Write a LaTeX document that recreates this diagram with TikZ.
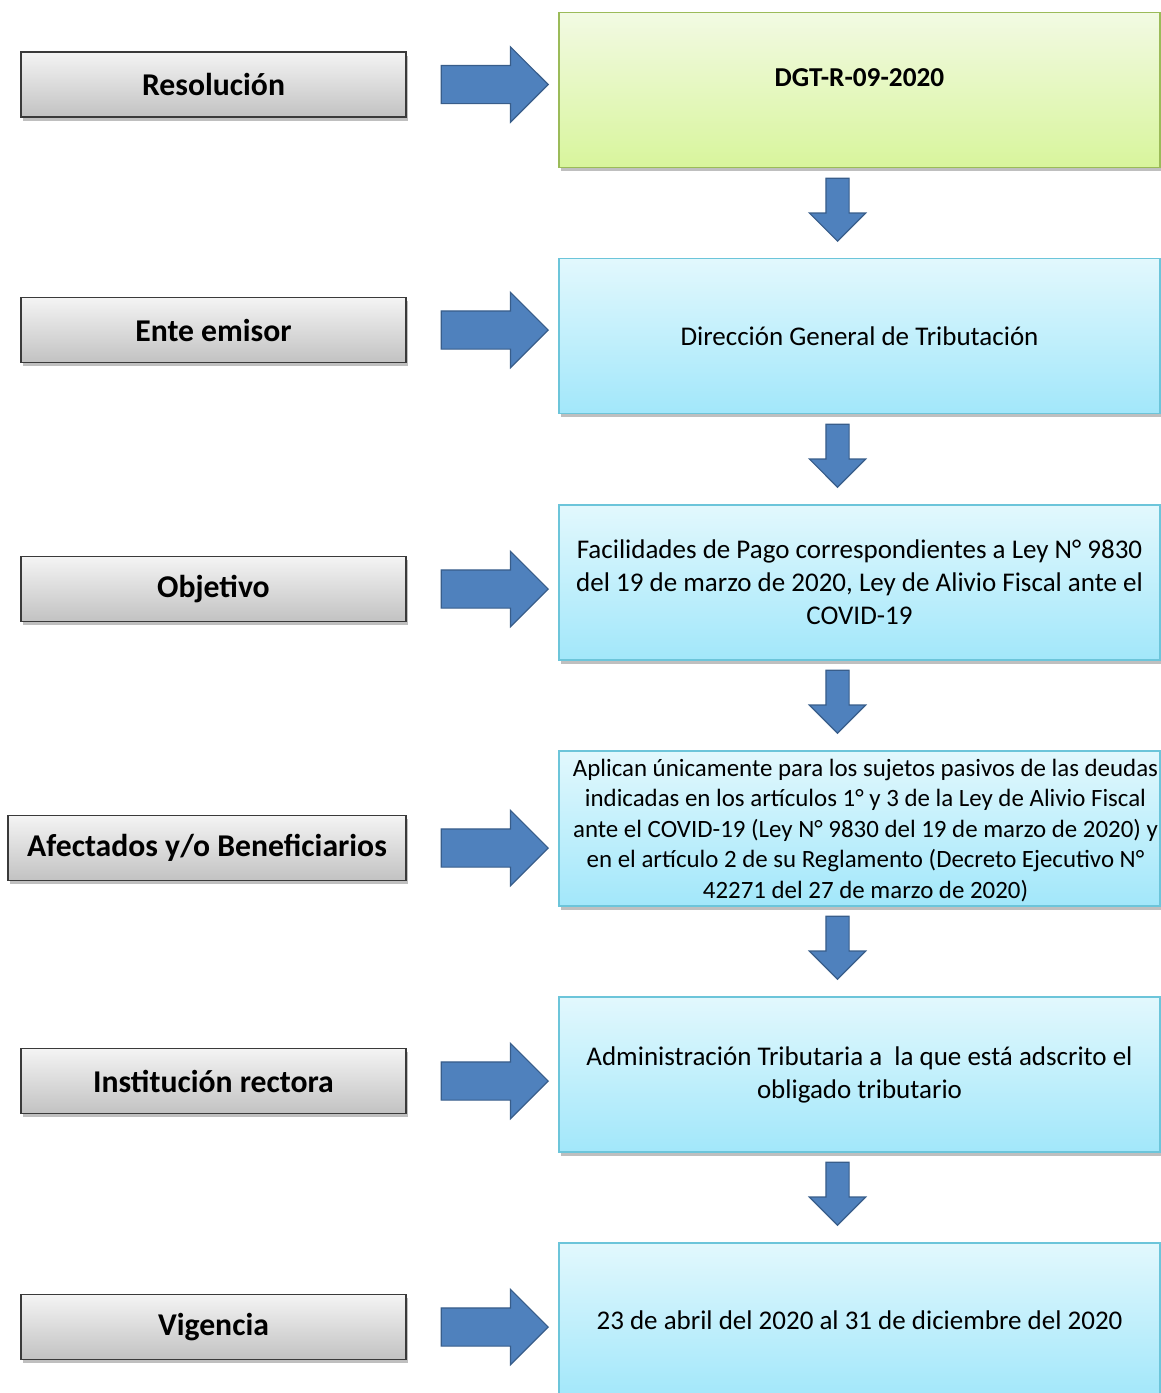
\documentclass[tikz,border=0pt]{standalone}
\usepackage{fontspec}
\setmainfont{Carlito}
\usetikzlibrary{shapes.arrows,shadows}
\definecolor{arrfill}{HTML}{4F81BD}
\definecolor{arrline}{HTML}{385D8A}
\definecolor{graytop}{HTML}{F4F4F4}
\definecolor{graybot}{HTML}{C2C2C2}
\definecolor{grayline}{HTML}{3A3A3A}
\definecolor{cyantop}{HTML}{E2F8FD}
\definecolor{cyanbot}{HTML}{A2E7FA}
\definecolor{cyanline}{HTML}{6CC5DA}
\definecolor{greentop}{HTML}{F2FAE3}
\definecolor{greenbot}{HTML}{D8F59C}
\definecolor{greenline}{HTML}{9BBB59}
\tikzset{
  softshadow/.style={drop shadow={shadow xshift=1.5pt, shadow yshift=-3.5pt, opacity=0.25, fill=black}},
  labelbox/.style={rectangle, draw=grayline, line width=1.5pt, top color=graytop, bottom color=graybot,
    minimum width=385pt, minimum height=65pt, inner sep=0pt,
    font=\fontsize{31.7}{36}\selectfont\bfseries, softshadow},
  infobox/.style={rectangle, draw=cyanline, line width=1.2pt, top color=cyantop, bottom color=cyanbot,
    minimum width=601pt, minimum height=155pt, inner sep=0pt, align=center,
    font=\fontsize{27}{33}\selectfont, softshadow},
  greenbox/.style={infobox, draw=greenline, top color=greentop, bottom color=greenbot},
  rightarrow/.style={single arrow, draw=arrline, line width=1.2pt, fill=arrfill,
    minimum height=107pt, inner xsep=0pt, inner ysep=18.5pt, single arrow head extend=18.5pt,
    single arrow tip angle=90, anchor=tip},
  downarrow/.style={single arrow, draw=arrline, line width=1.2pt, fill=arrfill,
    minimum height=63pt, inner xsep=0pt, inner ysep=11pt, single arrow head extend=16.5pt,
    single arrow tip angle=90, rotate=-90, anchor=tip}
}
\begin{document}
\begin{tikzpicture}[x=1pt, y=-1pt]
\useasboundingbox (0,0) rectangle (1161,1393);
\clip (0,0) rectangle (1161,1393);
% right boxes
\node[greenbox] (r1) at (859.5,90) {};
\node[font=\fontsize{27.3}{32}\selectfont\bfseries] (t1) at (859.5,78) {DGT-R-09-2020};
\node[infobox] (r2) at (859.5,336) {Dirección General de Tributación};
\node[infobox] (r3) at (859.5,582.5) {Facilidades de Pago correspondientes a Ley N° 9830\\del 19 de marzo de 2020, Ley de Alivio Fiscal ante el\\COVID-19};
\node[infobox] (r4) at (859.5,828.5) {};
\node[align=center, inner sep=0pt, font=\fontsize{24.9}{30.5}\selectfont] (t4) at (865.5,830.5) {Aplican únicamente para los sujetos pasivos de las deudas\\indicadas en los artículos 1° y 3 de la Ley de Alivio Fiscal\\ante el COVID-19 (Ley N° 9830 del 19 de marzo de 2020) y\\en el artículo 2 de su Reglamento (Decreto Ejecutivo N°\\42271 del 27 de marzo de 2020)};
\node[infobox] (r5) at (859.5,1074.5) {Administración Tributaria a\ \ la que está adscrito el\\obligado tributario};
\node[infobox] (r6) at (859.5,1320.5) {23 de abril del 2020 al 31 de diciembre del 2020};
% left labels
\node[labelbox] (l1) at (213.5,84.5) {Resolución};
\node[labelbox] (l2) at (213.5,330) {Ente emisor};
\node[labelbox] (l3) at (213.5,589) {Objetivo};
\node[labelbox, minimum width=398pt] (l4) at (207,848) {Afectados y/o Beneficiarios};
\node[labelbox] (l5) at (213.5,1081) {Institución rectora};
\node[labelbox] (l6) at (213.5,1327) {Vigencia};
% right arrows
\node[rightarrow] (a1) at (549,84.5) {};
\node[rightarrow] (a2) at (549,330) {};
\node[rightarrow] (a3) at (549,589) {};
\node[rightarrow] (a4) at (549,848) {};
\node[rightarrow] (a5) at (549,1081) {};
\node[rightarrow] (a6) at (549,1327) {};
% down arrows
\node[downarrow] (d1) at (837.5,242) {};
\node[downarrow] (d2) at (837.5,488) {};
\node[downarrow] (d3) at (837.5,734) {};
\node[downarrow] (d4) at (837.5,980) {};
\node[downarrow] (d5) at (837.5,1226) {};
\end{tikzpicture}
\end{document}
